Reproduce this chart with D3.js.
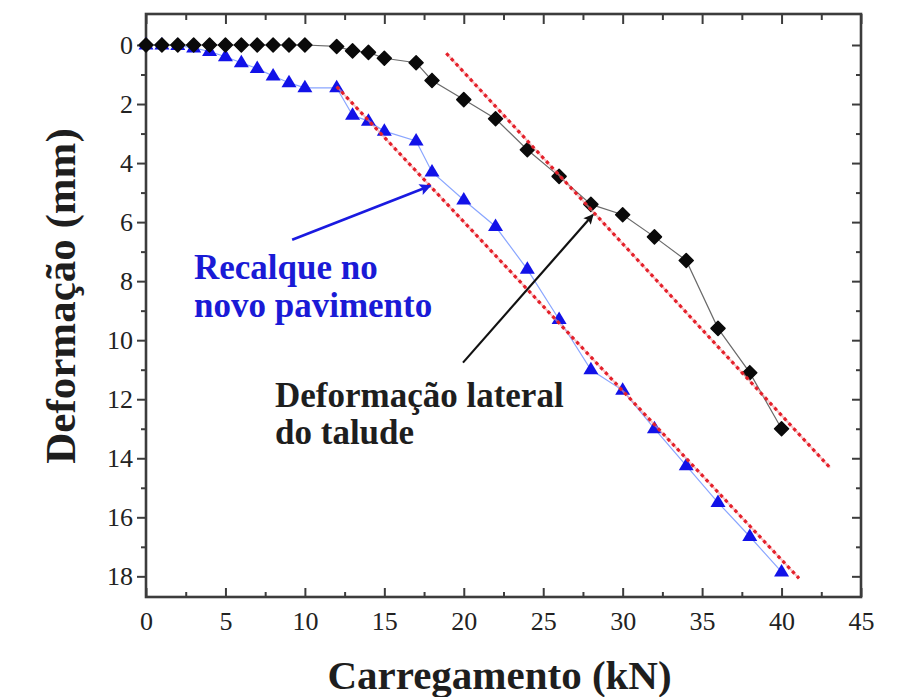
<!DOCTYPE html>
<html>
<head>
<meta charset="utf-8">
<script src="https://cdn.jsdelivr.net/npm/d3@7"></script>
<style>
  html, body { margin: 0; padding: 0; background: #ffffff; }
  svg { display: block; }
</style>
</head>
<body>
<svg id="chart" width="903" height="697"></svg>
<script>
// Load (kN) vs deformation (mm)
const xTicks = [0, 5, 10, 15, 20, 25, 30, 35, 40, 45];
const yTicks = [0, 2, 4, 6, 8, 10, 12, 14, 16, 18];

// Lateral deformation of the slope (black diamonds)
const lateralLoad = [0, 1, 2, 3, 4, 5, 6, 7, 8, 9, 10, 12, 13, 14, 15, 17, 18, 20, 22, 24, 26, 28, 30, 32, 34, 36, 38, 40];
const lateralDef  = [0, 0, 0, 0, 0, 0, 0, 0, 0, 0, 0, 0.05, 0.2, 0.25, 0.45, 0.6, 1.2, 1.85, 2.5, 3.55, 4.45, 5.4, 5.75, 6.5, 7.3, 9.6, 11.1, 13.0];

// Settlement of the new pavement (blue triangles)
const settleLoad = [0, 1, 2, 3, 4, 5, 6, 7, 8, 9, 10, 12, 13, 14, 15, 17, 18, 20, 22, 24, 26, 28, 30, 32, 34, 36, 38, 40];
const settleDef  = [0, 0, 0.02, 0.1, 0.22, 0.4, 0.6, 0.8, 1.05, 1.28, 1.45, 1.45, 2.38, 2.58, 2.92, 3.25, 4.3, 5.25, 6.15, 7.6, 9.3, 11.0, 11.7, 13.0, 14.25, 15.5, 16.65, 17.85];

// Linear trend segments (start/end in load, deformation)
const trendLateral = [[18.9, 0.28], [43.05, 14.32]];
const trendSettle  = [[12.0, 1.41], [41.1, 18.07]];

const svg = d3.select("#chart");
const plotLeft = 146, plotRight = 861, plotTop = 14, plotBottom = 597;

const x = d3.scaleLinear().domain([0, 45]).range([plotLeft, plotRight]);
const y = d3.scaleLinear().domain([-1.05, 18.7]).range([plotTop, plotBottom]);

const frameColor = "#3c3c3c";
const serif = "'Liberation Serif', 'Times New Roman', serif";

// Plot frame
svg.append("rect")
  .attr("x", plotLeft).attr("y", plotTop)
  .attr("width", plotRight - plotLeft).attr("height", plotBottom - plotTop)
  .attr("fill", "none").attr("stroke", frameColor).attr("stroke-width", 2.6);

const xMinor = d3.range(2.5, 45, 5);
const yMinor = d3.range(1, 18, 2);

function styleTicks(g) {
  g.select(".domain").remove();
  g.selectAll(".tick line").attr("stroke", frameColor).attr("stroke-width", 2);
}

// Bottom axis: ticks pointing inward
const gB = svg.append("g").attr("transform", `translate(0,${plotBottom})`)
  .call(d3.axisBottom(x).tickValues(xTicks).tickSize(-9).tickPadding(15).tickFormat(d3.format("d")))
  .call(styleTicks);
gB.selectAll(".tick text").attr("fill", "#222").attr("font-family", serif).attr("font-size", 26);
svg.append("g").attr("transform", `translate(0,${plotBottom})`)
  .call(d3.axisBottom(x).tickValues(xMinor).tickSize(-5).tickFormat(""))
  .call(styleTicks);

// Top axis: ticks pointing inward, no labels
svg.append("g").attr("transform", `translate(0,${plotTop})`)
  .call(d3.axisTop(x).tickValues(xTicks).tickSize(-10).tickFormat(""))
  .call(styleTicks);
svg.append("g").attr("transform", `translate(0,${plotTop})`)
  .call(d3.axisTop(x).tickValues(xMinor).tickSize(-6).tickFormat(""))
  .call(styleTicks);

// Left axis: ticks pointing outward
const gL = svg.append("g").attr("transform", `translate(${plotLeft},0)`)
  .call(d3.axisLeft(y).tickValues(yTicks).tickSize(9).tickPadding(4).tickFormat(d3.format("d")))
  .call(styleTicks);
gL.selectAll(".tick text").attr("fill", "#222").attr("font-family", serif).attr("font-size", 26);
svg.append("g").attr("transform", `translate(${plotLeft},0)`)
  .call(d3.axisLeft(y).tickValues(yMinor).tickSize(5).tickFormat(""))
  .call(styleTicks);

// Right axis: ticks pointing inward
svg.append("g").attr("transform", `translate(${plotRight},0)`)
  .call(d3.axisRight(y).tickValues(yTicks).tickSize(-9).tickFormat(""))
  .call(styleTicks);
svg.append("g").attr("transform", `translate(${plotRight},0)`)
  .call(d3.axisRight(y).tickValues(yMinor).tickSize(-5).tickFormat(""))
  .call(styleTicks);

// Axis titles
svg.append("text")
  .attr("x", (plotLeft + plotRight) / 2 - 4).attr("y", 689)
  .attr("text-anchor", "middle")
  .attr("font-family", serif).attr("font-weight", "bold").attr("font-size", 41)
  .attr("fill", "#1e1e1e")
  .text("Carregamento (kN)");

svg.append("text")
  .attr("transform", "translate(75,296) rotate(-90)")
  .attr("text-anchor", "middle")
  .attr("font-family", serif).attr("font-weight", "bold").attr("font-size", 43)
  .attr("fill", "#1e1e1e")
  .text("Deformação (mm)");

// Series
const lateral = lateralLoad.map((v, i) => ({ x: v, y: lateralDef[i] }));
const settle = settleLoad.map((v, i) => ({ x: v, y: settleDef[i] }));
const line = d3.line().x(d => x(d.x)).y(d => y(d.y));

svg.append("path").datum(settle).attr("d", line)
  .attr("fill", "none").attr("stroke", "#8aa6ff").attr("stroke-width", 1.2);
svg.append("path").datum(lateral).attr("d", line)
  .attr("fill", "none").attr("stroke", "#6a6a6a").attr("stroke-width", 1.2);

svg.append("g").selectAll("path").data(settle).join("path")
  .attr("transform", d => `translate(${x(d.x)},${y(d.y)})`)
  .attr("d", "M0,-8L7.5,4.5L-7.5,4.5Z")
  .attr("fill", "#1212e8");

svg.append("g").selectAll("path").data(lateral).join("path")
  .attr("transform", d => `translate(${x(d.x)},${y(d.y)})`)
  .attr("d", "M0,-7L7,0L0,7L-7,0Z")
  .attr("fill", "#0a0a0a")
  .attr("stroke", "#0a0a0a").attr("stroke-width", 1.5).attr("stroke-linejoin", "round");

// Trend lines (red dotted)
const segLine = d3.line().x(d => x(d[0])).y(d => y(d[1]));
[trendLateral, trendSettle].forEach(seg => {
  svg.append("path").attr("d", segLine(seg))
    .attr("fill", "none").attr("stroke", "#f4a0a4").attr("stroke-width", 2).attr("opacity", 0.6);
  svg.append("path").attr("d", segLine(seg))
    .attr("fill", "none").attr("stroke", "#e4202a").attr("stroke-width", 3.2)
    .attr("stroke-dasharray", "3.5,3.5");
});

// Annotation arrows
const defs = svg.append("defs");
function arrowHead(id, color) {
  defs.append("marker")
    .attr("id", id).attr("viewBox", "0 0 10 10")
    .attr("refX", 9).attr("refY", 5)
    .attr("markerWidth", 7).attr("markerHeight", 4.5)
    .attr("markerUnits", "strokeWidth")
    .attr("orient", "auto")
    .append("path").attr("d", "M0,0L10,5L0,10L2,5Z").attr("fill", color);
}
arrowHead("headBlue", "#1a1ae0");
arrowHead("headBlack", "#111");

const blueArrow = [[9.2, 6.6], [17.9, 4.77]];
const blackArrow = [[19.95, 10.76], [28.13, 5.75]];

svg.append("line")
  .attr("x1", x(blueArrow[0][0])).attr("y1", y(blueArrow[0][1]))
  .attr("x2", x(blueArrow[1][0])).attr("y2", y(blueArrow[1][1]))
  .attr("stroke", "#1a1ae0").attr("stroke-width", 2.6)
  .attr("marker-end", "url(#headBlue)");
svg.append("line")
  .attr("x1", x(blackArrow[0][0])).attr("y1", y(blackArrow[0][1]))
  .attr("x2", x(blackArrow[1][0])).attr("y2", y(blackArrow[1][1]))
  .attr("stroke", "#111").attr("stroke-width", 2.2)
  .attr("marker-end", "url(#headBlack)");

// Annotation text
function label(lines, x0, baselines, color) {
  lines.forEach((t, i) => {
    svg.append("text")
      .attr("x", x(x0)).attr("y", y(baselines[i]))
      .attr("font-family", serif).attr("font-weight", "bold")
      .attr("font-size", 35).attr("fill", color)
      .text(t);
  });
}
label(["Recalque no", "novo pavimento"], 3.02, [7.92, 9.2], "#1a1ad6");
label(["Deformação lateral", "do talude"], 8.12, [12.25, 13.53], "#1e1e1e");
</script>
</body>
</html>
